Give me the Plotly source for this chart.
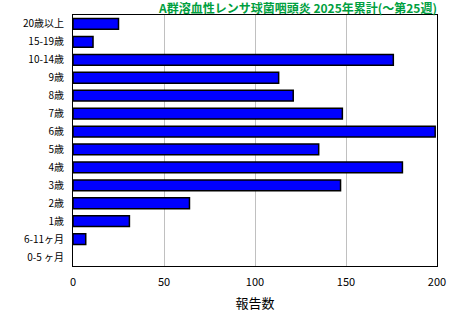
import plotly.graph_objects as go

categories = ["20歳以上", "15-19歳", "10-14歳", "9歳", "8歳", "7歳", "6歳",
              "5歳", "4歳", "3歳", "2歳", "1歳", "6-11ヶ月", "0-5 ヶ月"]
values = [25, 11, 176, 113, 121, 148, 199, 135, 181, 147, 64, 31, 7, 0]
x_ticks = [0, 50, 100, 150, 200]
title_text = "A群溶血性レンサ球菌咽頭炎 2025年累計(～第25週)"

font_family = "Noto Sans CJK JP"

fig = go.Figure()
fig.add_trace(go.Bar(
    x=values,
    y=categories,
    orientation="h",
    marker=dict(color="#0000FF",
                line=dict(color="#000000",
                          width=[1.5 if v > 0 else 0 for v in values])),
))

fig.update_layout(
    width=460, height=320,
    margin=dict(l=73, r=23, t=15, b=51),
    paper_bgcolor="white", plot_bgcolor="white",
    bargap=0.4,
    showlegend=False,
    font=dict(family=font_family, color="black", size=11),
    title=dict(text="<b>" + title_text + "</b>", x=1, xanchor="right",
               xref="paper", y=0.985, yanchor="top",
               font=dict(family=font_family, size=12, color="#00A040")),
    xaxis=dict(
        range=[0, 200], tickvals=x_ticks, ticktext=[str(t) for t in x_ticks],
        showgrid=True, gridcolor="#C0C0C0", gridwidth=1,
        showline=True, linecolor="black", linewidth=1, mirror=True,
        ticks="outside", ticklen=6, tickcolor="white", zeroline=False,
        title=dict(text="報告数", font=dict(size=13), standoff=10),
        tickfont=dict(size=11),
    ),
    yaxis=dict(
        autorange="reversed", showgrid=False,
        showline=True, linecolor="black", linewidth=1, mirror=True,
        ticks="outside", ticklen=6, tickcolor="white", tickfont=dict(size=10),
    ),
)

fig.write_html("out.html")
